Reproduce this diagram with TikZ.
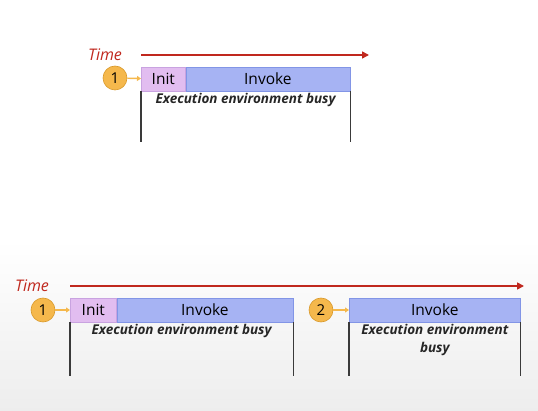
\documentclass[tikz,border=0pt]{standalone}
\usepackage{fontspec}
\setmainfont{Open Sans}
\usetikzlibrary{positioning, calc, arrows.meta}

\definecolor{timered}{HTML}{C0281E}
\definecolor{stepfill}{HTML}{F5B84C}
\definecolor{stepdraw}{HTML}{D9992A}
\definecolor{initfill}{HTML}{E2BDF0}
\definecolor{initdraw}{HTML}{C9A3E0}
\definecolor{invfill}{HTML}{A6B3F3}
\definecolor{invdraw}{HTML}{8295E6}
\definecolor{wallgray}{HTML}{3A3A3A}

\tikzset{
  timelabel/.style={text=timered, font=\itshape\fontsize{16}{18}\selectfont},
  timearrow/.style={draw=timered, line width=1.6pt, -{Triangle[length=7pt,width=7pt]}},
  stepcircle/.style={circle, fill=stepfill, draw=stepdraw, line width=0.6pt, minimum size=24pt, inner sep=0pt, font=\fontsize{15}{17}\selectfont},
  steparrow/.style={draw=stepfill, line width=1.4pt, -{Triangle[length=4pt,width=5pt]}},
  initbox/.style={rectangle, fill=initfill, draw=initdraw, line width=0.6pt, minimum height=24pt, inner sep=0pt, font=\fontsize{15.5}{17}\selectfont},
  invbox/.style={rectangle, fill=invfill, draw=invdraw, line width=0.6pt, minimum height=24pt, inner sep=0pt, font=\fontsize{15.5}{17}\selectfont},
  busytext/.style={font=\bfseries\itshape\fontsize{13.5}{18}\selectfont, text=black!85, align=center, inner sep=1pt},
  wall/.style={draw=wallgray, line width=1.1pt}
}

\begin{document}
\begin{tikzpicture}[x=1pt, y=-1pt]

  % background
  \useasboundingbox (0,0) rectangle (538,411);
  \shade[top color=white, bottom color=black!7] (0,240) rectangle (538,411);

  % 1. first request only
  \node[timelabel] (timeA) at (105,55) {Time};
  \coordinate (tA0) at (141,55);
  \coordinate (tA1) at (369,55);
  \draw[timearrow] (tA0) -- (tA1);

  \node[stepcircle] (stepA) at (115,78) {1};
  \node[initbox, minimum width=44pt, anchor=west] (initA) at (141,79) {Init};
  \node[invbox, minimum width=164pt, anchor=west] (invA) at (initA.east) {Invoke};
  \draw[steparrow] (stepA) -- (initA);
  \node[busytext, below=1pt of invA.south -| {$(initA.west)!0.5!(invA.east)$}] (busyA) {Execution environment busy};
  \draw[wall] (initA.south west) -- ++(0,51);
  \draw[wall] (invA.south east) -- ++(0,51);

  % 2. second request on the same environment
  \node[timelabel] (timeB) at (32,286) {Time};
  \coordinate (tB0) at (70,286);
  \coordinate (tB1) at (524,286);
  \draw[timearrow] (tB0) -- (tB1);

  \node[stepcircle] (stepB) at (43,310) {1};
  \node[initbox, minimum width=46pt, anchor=west] (initB) at (70,310) {Init};
  \node[invbox, minimum width=176pt, anchor=west] (invB) at (initB.east) {Invoke};
  \draw[steparrow] (stepB) -- (initB);
  \node[busytext, below=1pt of invB.south -| {$(initB.west)!0.5!(invB.east)$}] (busyB) {Execution environment busy};
  \draw[wall] (initB.south west) -- ++(0,54);
  \draw[wall] (invB.south east) -- ++(0,54);

  \node[stepcircle] (stepC) at (321,310) {2};
  \node[invbox, minimum width=171pt, anchor=west] (invC) at (349,310) {Invoke};
  \draw[steparrow] (stepC) -- (invC);
  \node[busytext, below=1pt of invC.south] (busyC) {Execution environment\\busy};
  \draw[wall] (invC.south west) -- ++(0,54);
  \draw[wall] (invC.south east) -- ++(0,54);

\end{tikzpicture}
\end{document}
